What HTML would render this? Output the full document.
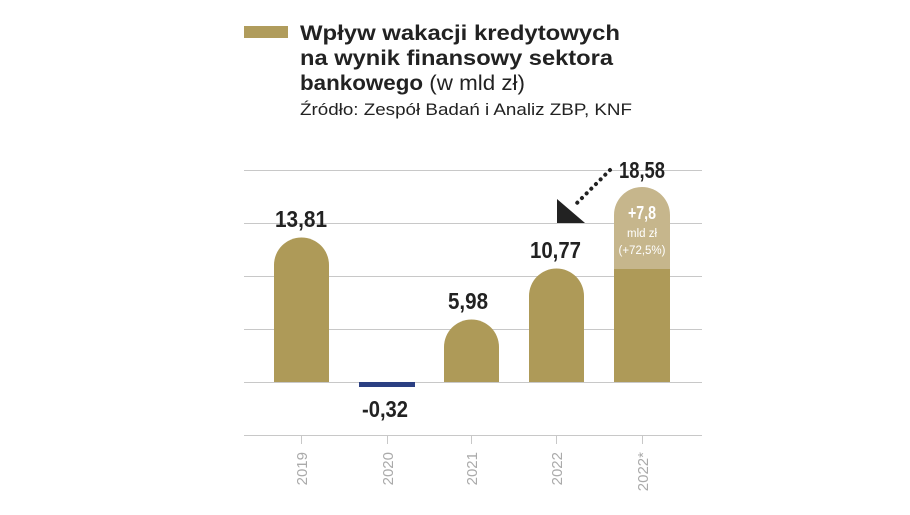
<!DOCTYPE html>
<html><head><meta charset="utf-8"><style>
body{margin:0;background:#fff;width:910px;height:510px;overflow:hidden;font-family:"Liberation Sans",sans-serif}
</style></head><body>
<svg width="910" height="510" xmlns="http://www.w3.org/2000/svg">
<rect x="244" y="26" width="44" height="12" fill="#b09c5c"/>
<g font-family="Liberation Sans, sans-serif" fill="#222">
<text x="300" y="40" font-size="21" font-weight="bold" textLength="320" lengthAdjust="spacingAndGlyphs">Wpływ wakacji kredytowych</text>
<text x="300" y="65" font-size="21" font-weight="bold" textLength="313" lengthAdjust="spacingAndGlyphs">na wynik finansowy sektora</text>
<text x="300" y="90" font-size="21" textLength="225" lengthAdjust="spacingAndGlyphs"><tspan font-weight="bold">bankowego</tspan> (w mld zł)</text>
<text x="300" y="115" font-size="16.5" textLength="332" lengthAdjust="spacingAndGlyphs">Źródło: Zespół Badań i Analiz ZBP, KNF</text>
</g>
<g stroke="#c8c8c8" stroke-width="1">
<line x1="244" x2="702" y1="170.5" y2="170.5"/>
<line x1="244" x2="702" y1="223.5" y2="223.5"/>
<line x1="244" x2="702" y1="276.5" y2="276.5"/>
<line x1="244" x2="702" y1="329.5" y2="329.5"/>
<line x1="244" x2="702" y1="382.5" y2="382.5"/>
<line x1="244" x2="702" y1="435.5" y2="435.5"/>
<line x1="301.5" x2="301.5" y1="436" y2="444"/>
<line x1="387.5" x2="387.5" y1="436" y2="444"/>
<line x1="471.5" x2="471.5" y1="436" y2="444"/>
<line x1="556.5" x2="556.5" y1="436" y2="444"/>
<line x1="642.5" x2="642.5" y1="436" y2="444"/>
</g>
<path d="M274 382 V265 A27.5 27.5 0 0 1 329 265 V382 Z" fill="#ae9a58"/>
<rect x="359" y="382" width="56" height="5" fill="#2b3f82"/>
<path d="M444 382 V347 A27.5 27.5 0 0 1 499 347 V382 Z" fill="#ae9a58"/>
<path d="M529 382 V296 A27.5 27.5 0 0 1 584 296 V382 Z" fill="#ae9a58"/>
<path d="M614 269 V215 A28 28 0 0 1 670 215 V269 Z" fill="#c6b68c"/>
<rect x="614" y="269" width="56" height="113" fill="#ae9a58"/>
<line x1="610" y1="170" x2="574" y2="206" stroke="#222" stroke-width="4" stroke-dasharray="0.1 6.5" stroke-linecap="round"/>
<polygon points="557,199 585,223 557,223" fill="#222"/>
<g font-family="Liberation Sans, sans-serif" font-weight="bold" font-size="23" fill="#222" lengthAdjust="spacingAndGlyphs">
<text x="275" y="227" textLength="52" lengthAdjust="spacingAndGlyphs">13,81</text>
<text x="362" y="417" textLength="46" lengthAdjust="spacingAndGlyphs">-0,32</text>
<text x="448" y="309" textLength="40" lengthAdjust="spacingAndGlyphs">5,98</text>
<text x="530" y="258" textLength="51" lengthAdjust="spacingAndGlyphs">10,77</text>
<text x="619" y="178" textLength="46" lengthAdjust="spacingAndGlyphs">18,58</text>
</g>
<g fill="#fff" text-anchor="middle" font-family="Liberation Sans, sans-serif">
<text x="642" y="219" font-size="18" font-weight="bold" textLength="28" lengthAdjust="spacingAndGlyphs">+7,8</text>
<text x="642" y="237" font-size="11.5">mld zł</text>
<text x="642" y="254" font-size="11.5">(+72,5%)</text>
</g>
<g fill="#aaa" font-size="15" font-family="Liberation Sans, sans-serif" text-anchor="end">
<text transform="translate(307,452) rotate(-90)">2019</text>
<text transform="translate(393,452) rotate(-90)">2020</text>
<text transform="translate(477,452) rotate(-90)">2021</text>
<text transform="translate(562,452) rotate(-90)">2022</text>
<text transform="translate(648,452) rotate(-90)">2022*</text>
</g>
</svg>
</body></html>
